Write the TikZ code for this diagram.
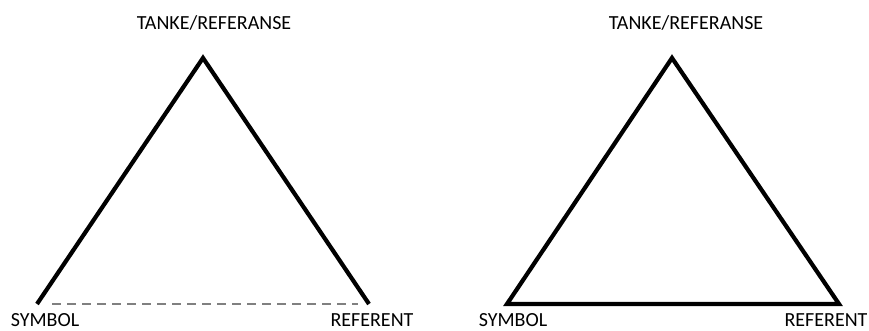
\documentclass[tikz,border=0pt]{standalone}
\usepackage{fontspec}
\setmainfont{Carlito}
\tikzset{side/.style={line width=4.2pt}, gap/.style={line width=2.8pt, gray, dash pattern=on 9pt off 6pt},
  lbl/.style={anchor=base, inner sep=0pt, text depth=0pt, font=\fontsize{20}{24}\selectfont}}

\begin{document}
\begin{tikzpicture}[x=1pt,y=1pt]
  \useasboundingbox (0,0) rectangle (869,331);
  % left triangle
  \coordinate (lt) at (203,273);
  \coordinate (ls) at (37,27);
  \coordinate (lr) at (369,27);
  \node[lbl] (ltanke) at (214,301) {TANKE/REFERANSE};
  \node[lbl] (lsym) at (45,4) {SYMBOL};
  \node[lbl] (lref) at (372,4) {REFERENT};
  \draw[side] (ls) -- (lt) -- (lr);
  \draw[gap] ([xshift=15pt]ls) -- ([xshift=-11pt]lr);
  % right triangle
  \coordinate (rt) at (672,273);
  \coordinate (rs) at (507,27);
  \coordinate (rr) at (839,27);
  \node[lbl] (rtanke) at (686,301) {TANKE/REFERANSE};
  \node[lbl] (rsym) at (513,4) {SYMBOL};
  \node[lbl] (rref) at (826,4) {REFERENT};
  \draw[side] (rs) -- (rt) -- (rr) -- cycle;
\end{tikzpicture}
\end{document}
